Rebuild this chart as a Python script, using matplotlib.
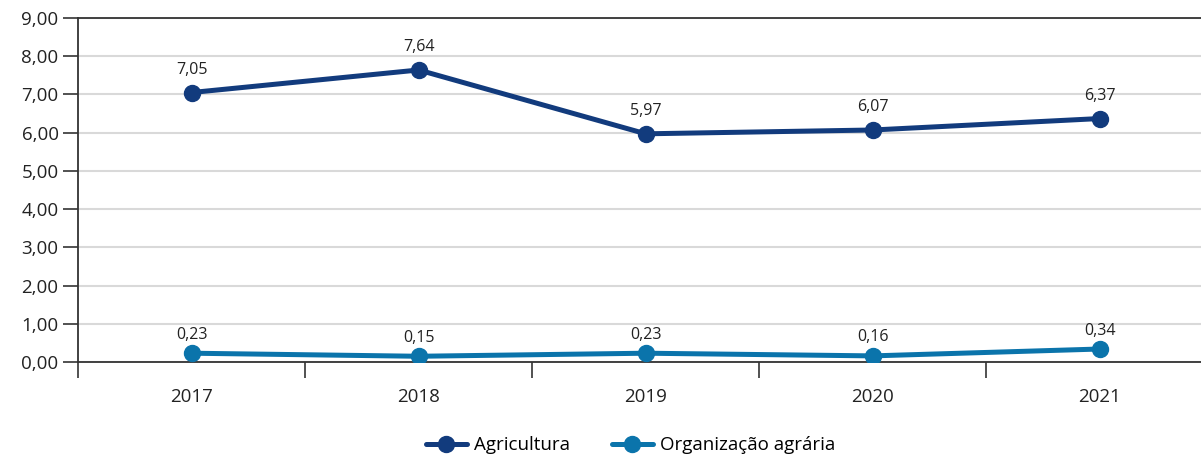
import numpy as np
import matplotlib.pyplot as plt
from matplotlib.ticker import FuncFormatter

years = ["2017", "2018", "2019", "2020", "2021"]
agricultura = [7.05, 7.64, 5.97, 6.07, 6.37]
organizacao = [0.23, 0.15, 0.23, 0.16, 0.34]
y_ticks = [0, 1, 2, 3, 4, 5, 6, 7, 8, 9]

plt.rcParams['font.family'] = ['Open Sans', 'DejaVu Sans']

DARK = '#123b7d'
LIGHT = '#0b74ab'
AXIS = '#333333'

fig = plt.figure(figsize=(12.01, 4.54), dpi=100)
# axes runs a bit past the right border, as in the reference crop
ax = fig.add_axes([78 / 1201, 92 / 454, 1135.5 / 1201, 344 / 454])

x = np.arange(len(years))
ax.plot(x, agricultura, color=DARK, lw=3.6, marker='o', ms=11.5,
        label='Agricultura', solid_capstyle='round', zorder=3)
ax.plot(x, organizacao, color=LIGHT, lw=3.6, marker='o', ms=11.5,
        label='Organização agrária', solid_capstyle='round', zorder=3)

for xi, v in zip(x, agricultura):
    ax.annotate(f"{v:.2f}".replace('.', ','), (xi, v), xytext=(0, 10.5),
                textcoords='offset points', ha='center', va='bottom',
                fontsize=11.5, color='#222222')
for xi, v in zip(x, organizacao):
    ax.annotate(f"{v:.2f}".replace('.', ','), (xi, v), xytext=(0, 7.5),
                textcoords='offset points', ha='center', va='bottom',
                fontsize=11.5, color='#222222')

ax.set_xlim(-0.5, len(years) - 0.5)
ax.set_ylim(0, 9)
ax.set_yticks(y_ticks)
ax.yaxis.set_major_formatter(FuncFormatter(lambda v, p: f"{v:.2f}".replace('.', ',')))
ax.set_xticks(x)
ax.set_xticklabels(years)
ax.set_xticks(np.arange(-0.5, len(years), 1.0), minor=True)
ax.tick_params(axis='x', which='major', length=0, pad=19, labelsize=13.5, colors='#222222')
ax.tick_params(axis='x', which='minor', length=11.5, width=1.2, color=AXIS, direction='out')
ax.tick_params(axis='y', length=11, width=1.2, color=AXIS, labelsize=13.5,
               labelcolor='#222222', pad=3)

ax.grid(axis='y', color='#d9d9d9', lw=1.5, zorder=0)
ax.set_axisbelow(True)
for s in ['right']:
    ax.spines[s].set_visible(False)
for s in ['left', 'bottom', 'top']:
    ax.spines[s].set_color(AXIS)
    ax.spines[s].set_linewidth(1.3)

fig.legend(loc='lower center', bbox_to_anchor=(0.525, -0.038), ncol=2, frameon=False,
           fontsize=13.5, handlelength=2.2, columnspacing=2.2, handletextpad=0.4)

fig.savefig('out.png', dpi=100)
